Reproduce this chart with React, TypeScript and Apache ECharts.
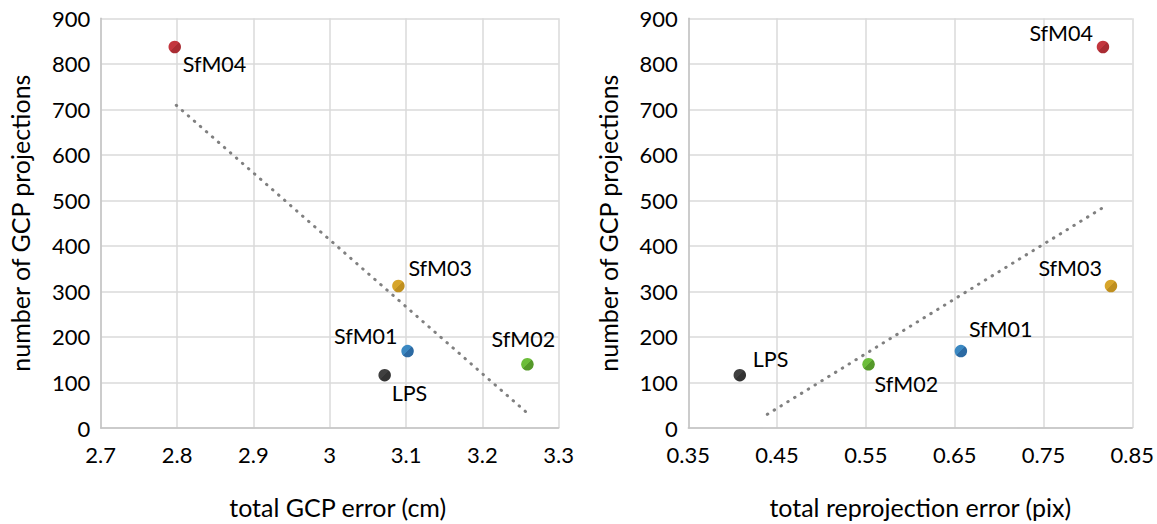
import React, { useEffect, useRef } from "react";
import * as echarts from "echarts";

const names = ["LPS", "SfM01", "SfM02", "SfM03", "SfM04"];
const colorsLight = ["#404040", "#3b88c2", "#6cbd3a", "#d7a52b", "#c3363e"];
const colorsDark = ["#333333", "#2c6aa3", "#55992a", "#bf8f1f", "#a92c33"];
const projections = [116, 169, 140, 312, 837];
const gcpError = [3.072, 3.102, 3.259, 3.09, 2.797];
const reprojError = [0.408, 0.657, 0.553, 0.826, 0.817];
const trendLeftX = [2.799, 3.258];
const trendLeftY = [709, 34];
const trendRightX = [0.439, 0.821];
const trendRightY = [30, 489];
const leftXTicks = [2.7, 2.8, 2.9, 3, 3.1, 3.2, 3.3];
const rightXTicks = [0.35, 0.45, 0.55, 0.65, 0.75, 0.85];

// label placement: [align, dx, dy]
const leftLabelPos: [string, number, number][] = [
  ["left", 7, 18],
  ["right", -10, -15],
  ["center", -4, -25],
  ["left", 10, -18],
  ["left", 8, 17],
];
const rightLabelPos: [string, number, number][] = [
  ["left", 13, -16],
  ["left", 8, -22],
  ["left", 6, 20],
  ["right", -9, -18],
  ["right", -10, -14],
];

const FONT = "Lato";
const TXT = "#000";

export default function App() {
  const ref = useRef<HTMLDivElement>(null);
  useEffect(() => {
    if (!ref.current) return;
    const chart = echarts.init(ref.current, null, { renderer: "svg" });
    const axisCommon = {
      axisLine: { show: true, lineStyle: { color: "#c4c4c4", width: 1.5 } },
      axisTick: { show: false },
      splitLine: { show: true, lineStyle: { color: "#dadada", width: 1.5 } },
      axisLabel: { color: TXT, fontFamily: FONT, fontSize: 22 },
      nameTextStyle: { color: TXT, fontFamily: FONT, fontSize: 25 },
    };
    const pointSeries = (xs: number[], lab: [string, number, number][], idx: number) =>
      ({
        type: "scatter",
        xAxisIndex: idx,
        yAxisIndex: idx,
        symbolSize: 12.5,
        z: 3,
        data: names.map((n, i) => ({
          value: [xs[i], projections[i]],
          name: n,
          itemStyle: {
            opacity: 1,
            color: new echarts.graphic.LinearGradient(0, 0, 1, 1, [
              { offset: 0, color: colorsLight[i] },
              { offset: 0.5, color: colorsLight[i] },
              { offset: 0.5, color: colorsDark[i] },
              { offset: 1, color: colorsDark[i] },
            ]),
          },
          label: {
            show: true,
            formatter: n,
            position: "inside",
            align: lab[i][0],
            verticalAlign: "middle",
            offset: [lab[i][1], lab[i][2]],
            color: TXT,
            fontFamily: FONT,
            fontSize: 21.5,
          },
        })),
      }) as any;
    const trendSeries = (xs: number[], ys: number[], idx: number) =>
      ({
        type: "line",
        xAxisIndex: idx,
        yAxisIndex: idx,
        symbol: "none",
        z: 2,
        lineStyle: { color: "#808080", width: 3, type: [0.5, 7.5], cap: "round" },
        data: xs.map((x, i) => [x, ys[i]]),
      }) as any;
    chart.setOption({
      animation: false,
      grid: [
        { left: 100.7, top: 18.3, width: 458, height: 423.4 },
        { left: 688.3, top: 18.3, width: 445.4, height: 423.4 },
      ],
      xAxis: [
        {
          ...axisCommon,
          type: "value",
          gridIndex: 0,
          min: 2.7,
          max: 3.3,
          interval: 0.1,
          name: "total GCP error (cm)",
          nameLocation: "middle",
          nameGap: 66,
          nameTextStyle: { ...axisCommon.nameTextStyle, padding: [0, 0, 0, 16] },
          axisLabel: {
            ...axisCommon.axisLabel,
            margin: 15,
            formatter: (v: number) => {
              const m = leftXTicks.find((t) => Math.abs(t - v) < 1e-6);
              return m === undefined ? "" : String(m);
            },
          },
        },
        {
          ...axisCommon,
          type: "value",
          gridIndex: 1,
          min: 0.35,
          max: 0.85,
          interval: 0.1,
          name: "total reprojection error (pix)",
          nameLocation: "middle",
          nameGap: 66,
          nameTextStyle: { ...axisCommon.nameTextStyle, padding: [0, 0, 0, 20] },
          axisLabel: {
            ...axisCommon.axisLabel,
            margin: 15,
            formatter: (v: number) => {
              const m = rightXTicks.find((t) => Math.abs(t - v) < 1e-6);
              return m === undefined ? "" : m.toFixed(2);
            },
          },
        },
      ],
      yAxis: [0, 1].map((g) => ({
        ...axisCommon,
        type: "value",
        gridIndex: g,
        min: 0,
        max: 900,
        interval: 100,
        name: "number of GCP projections",
        nameLocation: "middle",
        nameGap: 68,
        axisLabel: { ...axisCommon.axisLabel, margin: 10.5 },
      })),
      series: [
        trendSeries(trendLeftX, trendLeftY, 0),
        pointSeries(gcpError, leftLabelPos, 0),
        trendSeries(trendRightX, trendRightY, 1),
        pointSeries(reprojError, rightLabelPos, 1),
      ],
    });
    return () => chart.dispose();
  }, []);
  return (
    <div
      ref={ref}
      style={{ position: "fixed", left: 0, top: 0, width: 1157, height: 524, background: "#fff" }}
    />
  );
}
